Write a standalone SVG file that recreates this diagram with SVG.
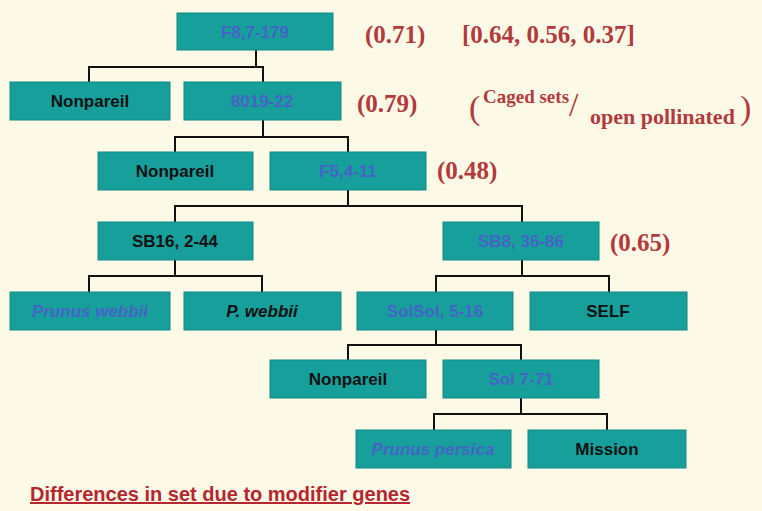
<svg xmlns="http://www.w3.org/2000/svg" width="762" height="511" viewBox="0 0 762 511">
<style>
.bg{fill:#fcf9e6}
.box{fill:#17a09b;stroke:#128884;stroke-width:1}
.t{font-family:"Liberation Sans",Arial,sans-serif;font-size:17px;font-weight:bold;text-anchor:middle;fill:#111}
.b{fill:#4563c6}
.i{font-style:italic}
.r{font-family:"Liberation Serif","Times New Roman",serif;font-weight:bold;fill:#b23a3c;font-size:25px}
.s{font-size:19px}
.s2{font-size:22px}
.p{font-size:34px;font-weight:normal}
.c line{stroke:#111;stroke-width:2}
.title{font-family:"Liberation Sans",Arial,sans-serif;font-weight:bold;font-size:20px;fill:#b5262f;text-decoration:underline}
</style>
<rect class="bg" width="762" height="511"/>
<g class="c" id="connectors">
<line x1="256" y1="50" x2="256" y2="67"/><line x1="89" y1="67" x2="263" y2="67"/><line x1="89" y1="66" x2="89" y2="82"/><line x1="263" y1="66" x2="263" y2="82"/>
<line x1="263" y1="120" x2="263" y2="137"/><line x1="175" y1="137" x2="348" y2="137"/><line x1="175" y1="136" x2="175" y2="152"/><line x1="348" y1="136" x2="348" y2="152"/>
<line x1="348" y1="190" x2="348" y2="206"/><line x1="175" y1="206" x2="522" y2="206"/><line x1="175" y1="205" x2="175" y2="222"/><line x1="522" y1="205" x2="522" y2="222"/>
<line x1="175" y1="260" x2="175" y2="276"/><line x1="89" y1="276" x2="262" y2="276"/><line x1="89" y1="275" x2="89" y2="292"/><line x1="262" y1="275" x2="262" y2="292"/>
<line x1="522" y1="260" x2="522" y2="276"/><line x1="436" y1="276" x2="609" y2="276"/><line x1="436" y1="275" x2="436" y2="292"/><line x1="609" y1="275" x2="609" y2="292"/>
<line x1="436" y1="330" x2="436" y2="345"/><line x1="348" y1="345" x2="521" y2="345"/><line x1="348" y1="344" x2="348" y2="360"/><line x1="521" y1="344" x2="521" y2="360"/>
<line x1="521" y1="398" x2="521" y2="414"/><line x1="434" y1="414" x2="607" y2="414"/><line x1="434" y1="413" x2="434" y2="430"/><line x1="607" y1="413" x2="607" y2="430"/>
</g>
<g id="n1"><rect class="box" x="177" y="13" width="156" height="37"/><text class="t b" x="255" y="38">F8,7-179</text></g>
<g id="n2"><rect class="box" x="10" y="82" width="160" height="38"/><text class="t" x="90" y="107">Nonpareil</text></g>
<g id="n3"><rect class="box" x="184" y="82" width="157" height="38"/><text class="t b" x="262" y="107">8019-22</text></g>
<g id="n4"><rect class="box" x="98" y="152" width="155" height="38"/><text class="t" x="175" y="177">Nonpareil</text></g>
<g id="n5"><rect class="box" x="270" y="152" width="156" height="38"/><text class="t b" x="348" y="177">F5,4-11</text></g>
<g id="n6"><rect class="box" x="98" y="222" width="155" height="38"/><text class="t" x="175" y="247">SB16, 2-44</text></g>
<g id="n7"><rect class="box" x="443" y="222" width="156" height="38"/><text class="t b" x="521" y="247">SB8, 36-86</text></g>
<g id="n8"><rect class="box" x="10" y="292" width="160" height="38"/><text class="t b i" x="90" y="317">Prunus webbii</text></g>
<g id="n9"><rect class="box" x="184" y="292" width="157" height="38"/><text class="t i" x="262" y="317">P. webbii</text></g>
<g id="n10"><rect class="box" x="357" y="292" width="156" height="38"/><text class="t b" x="435" y="317">SolSol, 5-16</text></g>
<g id="n11"><rect class="box" x="530" y="292" width="157" height="38"/><text class="t" x="608" y="317">SELF</text></g>
<g id="n12"><rect class="box" x="270" y="360" width="156" height="38"/><text class="t" x="348" y="385">Nonpareil</text></g>
<g id="n13"><rect class="box" x="443" y="360" width="156" height="38"/><text class="t b" x="521" y="385">Sol 7-71</text></g>
<g id="n14"><rect class="box" x="356" y="430" width="155" height="38"/><text class="t b i" x="433" y="455">Prunus persica</text></g>
<g id="n15"><rect class="box" x="528" y="430" width="158" height="38"/><text class="t" x="607" y="455">Mission</text></g>
<g id="labels">
<text class="r" x="365" y="43">(0.71)</text>
<text class="r" x="462" y="43">[0.64,  0.56, 0.37]</text>
<text class="r" x="357" y="112">(0.79)</text>
<text class="r p" x="469" y="119">(</text>
<text class="r s" x="483" y="103">Caged sets</text>
<text class="r p" x="569" y="116">/</text>
<text class="r s2" x="590" y="124">open pollinated</text>
<text class="r p" x="740" y="119">)</text>
<text class="r" x="437" y="179">(0.48)</text>
<text class="r" x="610" y="251">(0.65)</text>
<text class="title" x="30" y="501">Differences in set due to modifier genes</text>
</g>
</svg>
